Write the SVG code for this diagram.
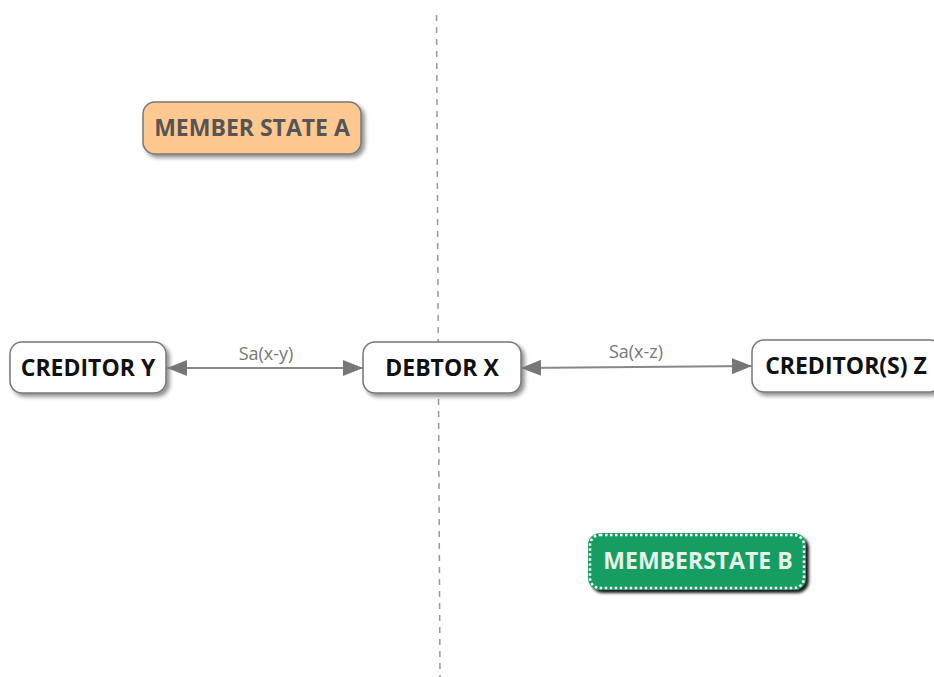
<svg xmlns="http://www.w3.org/2000/svg" width="934" height="677" viewBox="0 0 934 677">
<defs>
<filter id="sh" x="-10%" y="-20%" width="130%" height="160%">
<feGaussianBlur in="SourceAlpha" stdDeviation="2"/>
<feOffset dx="3" dy="3" result="b"/>
<feComponentTransfer><feFuncA type="linear" slope="0.45"/></feComponentTransfer>
<feMerge><feMergeNode/><feMergeNode in="SourceGraphic"/></feMerge>
</filter>
<filter id="shd" x="-10%" y="-20%" width="130%" height="160%">
<feGaussianBlur in="SourceAlpha" stdDeviation="1.5"/>
<feOffset dx="3" dy="3" result="b"/>
<feComponentTransfer><feFuncA type="linear" slope="0.9"/></feComponentTransfer>
<feMerge><feMergeNode/><feMergeNode in="SourceGraphic"/></feMerge>
</filter>
<marker id="ah" viewBox="0 0 20 16" refX="20" refY="8" markerWidth="20" markerHeight="16" markerUnits="userSpaceOnUse" orient="auto-start-reverse">
<path d="M0,0 L20,8 L0,16 z" fill="#777"/>
</marker>
</defs>
<style>
.node rect{fill:#fff;stroke:#777;stroke-width:1.5;}
.lbl{font-family:"Open Sans","Liberation Sans",sans-serif;font-weight:bold;font-size:23px;text-anchor:middle;fill:#111;}
.elbl{font-family:"Open Sans","Liberation Sans",sans-serif;font-size:18px;text-anchor:middle;fill:#777;}
.edge{stroke:#888;stroke-width:2;fill:none;}
</style>
<rect width="934" height="677" fill="#fff"/>
<line x1="436.5" y1="15" x2="440" y2="677" stroke="#999" stroke-width="1.5" stroke-dasharray="6,6"/>
<g id="member-state-a">
<rect x="143" y="102" width="218" height="52" rx="12" fill="#FFC890" stroke="#777" stroke-width="1.5" filter="url(#sh)"/>
<text x="252" y="136" class="lbl" style="fill:#555">MEMBER STATE A</text>
</g>
<g id="creditor-y" class="node">
<rect x="10" y="342" width="156" height="51" rx="12" filter="url(#sh)"/>
<text x="88" y="376" class="lbl">CREDITOR Y</text>
</g>
<g id="debtor-x" class="node">
<rect x="363" y="342" width="158" height="51" rx="12" filter="url(#sh)"/>
<text x="442" y="376" class="lbl">DEBTOR X</text>
</g>
<g id="creditors-z" class="node">
<rect x="752" y="340" width="190" height="52" rx="12" filter="url(#sh)"/>
<text x="846" y="374" class="lbl">CREDITOR(S) Z</text>
</g>
<g id="memberstate-b">
<rect x="588" y="533" width="218" height="57" rx="12" fill="#139E62" filter="url(#shd)"/>
<rect x="590" y="535" width="214" height="53" rx="10" fill="none" stroke="#fff" stroke-width="2.5" stroke-dasharray="2.5,2.5"/>
<text x="698" y="569" class="lbl" style="fill:#E6F2EA">MEMBERSTATE B</text>
</g>
<g id="connectors">
<line class="edge" x1="167" y1="368" x2="363" y2="368" marker-start="url(#ah)" marker-end="url(#ah)"/>
<text x="266" y="360" class="elbl">Sa(x-y)</text>
<line class="edge" x1="521" y1="368" x2="752" y2="366" marker-start="url(#ah)" marker-end="url(#ah)"/>
<text x="636" y="358" class="elbl">Sa(x-z)</text>
</g>
</svg>
